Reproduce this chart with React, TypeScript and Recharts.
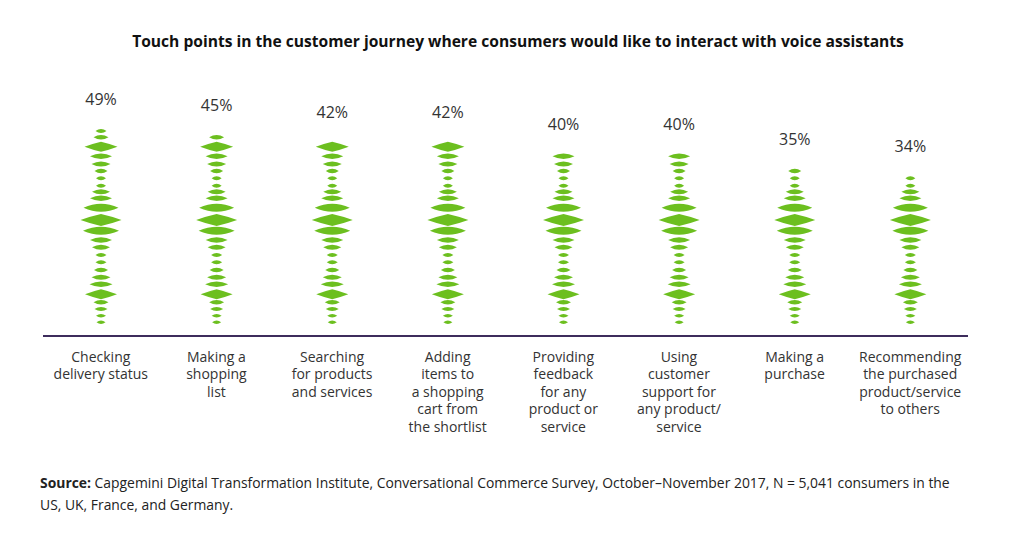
import React from "react";
import { BarChart, Bar, XAxis, YAxis, LabelList } from "recharts";

// Touch points (x categories), each label line split by "\n"
const TOUCH_POINTS = [
  "Checking\ndelivery status",
  "Making a\nshopping\nlist",
  "Searching\nfor products\nand services",
  "Adding\nitems to\na shopping\ncart from\nthe shortlist",
  "Providing\nfeedback\nfor any\nproduct or\nservice",
  "Using\ncustomer\nsupport for\nany product/\nservice",
  "Making a\npurchase",
  "Recommending\nthe purchased\nproduct/service\nto others",
];

// Share of consumers (%)
const SHARES = [49, 45, 42, 42, 40, 40, 35, 34];

// Value axis: bars rise from a floor below zero so the wave column keeps its base
const AXIS_FLOOR = -16;
const AXIS_CEIL = 60;

const data = TOUCH_POINTS.map((name, i) => ({ name, share: SHARES[i] }));

const GREEN = "#6cbf1f";
const AXIS_PURPLE = "#3d2c5c";
const FONT = "'Open Sans', 'Noto Sans', sans-serif";

// Sound-wave decoration: tiers stacked upward from the column base.
// [distance of tier centre above base, tier width, tier height]
const WAVE_TIERS: [number, number, number][] = [
  [13.7, 9, 3.5],
  [20.3, 10, 3.5],
  [27, 13, 4],
  [33.7, 15, 4.5],
  [41.7, 32, 10],
  [51.7, 23, 5.5],
  [58.7, 19, 5],
  [66, 14, 4.5],
  [73.7, 11, 4],
  [81, 11, 4],
  [88.7, 18, 5],
  [96, 22, 5.5],
  [105.3, 36, 8],
  [116, 41, 12],
  [128.3, 35, 8],
  [137.7, 22, 5.5],
  [144.3, 18, 5],
  [150.3, 10, 4],
  [157.7, 10, 4],
  [165, 13, 4.5],
  [172, 19, 5],
  [179.7, 22, 5.5],
  [189.3, 33, 10],
  [198.7, 15, 4.5],
  [205, 11, 4],
];

const TIER_SLACK = 3.5;

function visibleTiers(height: number) {
  return WAVE_TIERS.filter(([off]) => off <= height + TIER_SLACK);
}

function tierPath(cx: number, cy: number, w: number, h: number) {
  const hw = w / 2;
  const hh = h / 2;
  if (h >= 9.5) {
    // rhombus with slightly bulging edges
    const kx = w * 0.25;
    const ky = h * 0.31;
    return (
      `M${cx - hw},${cy} Q${cx - kx},${cy - ky} ${cx},${cy - hh} ` +
      `Q${cx + kx},${cy - ky} ${cx + hw},${cy} ` +
      `Q${cx + kx},${cy + ky} ${cx},${cy + hh} ` +
      `Q${cx - kx},${cy + ky} ${cx - hw},${cy} Z`
    );
  }
  // pointed lens
  return (
    `M${cx - hw},${cy} Q${cx},${cy - h} ${cx + hw},${cy} ` +
    `Q${cx},${cy + h} ${cx - hw},${cy} Z`
  );
}

const WaveColumn = (props: any) => {
  const { x, y, width, height } = props;
  if (height == null || height <= 0) return null;
  const cx = x + width / 2;
  const base = y + height;
  return (
    <g>
      {visibleTiers(height).map(([off, w, h], i) => (
        <path key={i} d={tierPath(cx, base - off, w, h)} fill={GREEN} />
      ))}
    </g>
  );
};

const ShareLabel = (props: any) => {
  const { x, y, width, height, value } = props;
  const tiers = visibleTiers(height);
  const [off, , h] = tiers[tiers.length - 1];
  const topEdge = y + height - off - h / 2;
  return (
    <text
      x={x + width / 2}
      y={topEdge - 29.7 + 5.7}
      textAnchor="middle"
      fontFamily={FONT}
      fontSize={16}
      fill="#333"
    >
      {`${value}%`}
    </text>
  );
};

const TouchPointTick = (props: any) => {
  const { x, y, payload } = props;
  const lines = String(payload.value).split("\n");
  return (
    <text
      x={x}
      y={y + 26}
      textAnchor="middle"
      fontFamily={FONT}
      fontSize={14}
      fill="#333"
    >
      {lines.map((line, i) => (
        <tspan key={i} x={x} dy={i === 0 ? 0 : 17.4}>
          {line}
        </tspan>
      ))}
    </text>
  );
};

export default function App() {
  return (
    <div style={{ position: "relative", width: 1008, height: 539, background: "#fff" }}>
      <div
        style={{
          position: "absolute",
          left: 0,
          top: 23,
          width: 1020,
          textAlign: "center",
          fontFamily: FONT,
          fontWeight: 700,
          fontSize: 15.6,
          lineHeight: "20px",
          color: "#111",
        }}
      >
        Touch points in the customer journey where consumers would like to interact with voice assistants
      </div>
      <BarChart
        width={1008}
        height={539}
        data={data}
        margin={{ top: 83.2, right: 48, bottom: 101, left: 35 }}
        barCategoryGap={0}
      >
        <YAxis hide domain={[AXIS_FLOOR, AXIS_CEIL]} />
        <XAxis
          dataKey="name"
          interval={0}
          height={110}
          tickSize={0}
          tickMargin={0}
          tickLine={false}
          axisLine={{ stroke: AXIS_PURPLE, strokeWidth: 2 }}
          tick={<TouchPointTick />}
        />
        <Bar
          dataKey={(d: any) => [AXIS_FLOOR, d.share]}
          barSize={50}
          shape={<WaveColumn />}
          isAnimationActive={false}
        >
          <LabelList dataKey="share" content={<ShareLabel />} />
        </Bar>
      </BarChart>
      <div
        style={{
          position: "absolute",
          left: 32,
          top: 464,
          width: 980,
          fontFamily: FONT,
          fontSize: 13.9,
          lineHeight: "22px",
          color: "#222",
        }}
      >
        <b>Source:</b> Capgemini Digital Transformation Institute, Conversational Commerce Survey, October–November 2017, N = 5,041 consumers in the
        <br />
        US, UK, France, and Germany.
      </div>
    </div>
  );
}
